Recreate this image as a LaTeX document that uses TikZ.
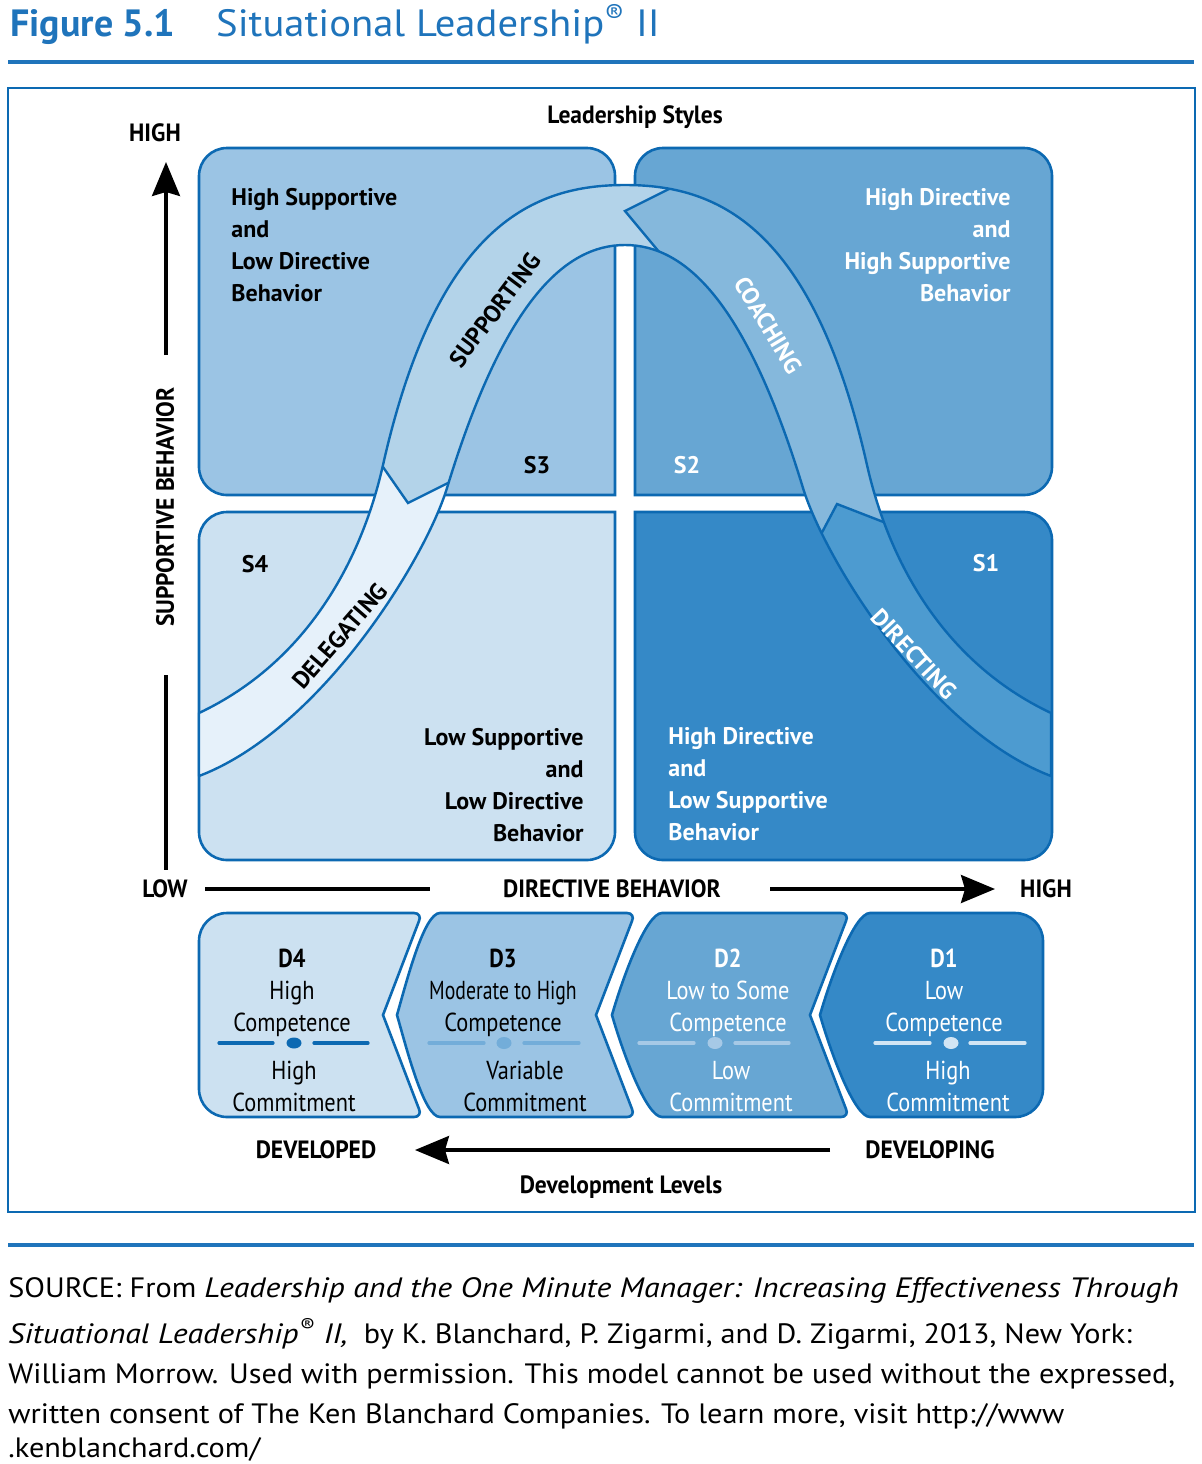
\documentclass[tikz,border=0pt]{standalone}
\usepackage{fontspec}
\setmainfont{PT Sans}
\newfontfamily\condfont{PT Sans}[FakeStretch=0.86]
\newfontfamily\narrowfont{PT Sans}[FakeStretch=0.76]
\newfontfamily\labfont{PT Sans}[FakeStretch=0.94]
\newfontfamily\titlefont{PT Sans}[FakeStretch=1.07]
\newfontfamily\srcfont{PT Sans}[FakeStretch=1.08]
\newfontfamily\srcit{PT Sans Italic}[FakeStretch=1.14]
\usepackage{tikz}
\usetikzlibrary{arrows.meta,positioning}

\definecolor{sltitle}{HTML}{1F74BB}
\definecolor{slborder}{HTML}{0C69B2}
\definecolor{qone}{HTML}{3589C7}
\definecolor{qtwo}{HTML}{67A6D3}
\definecolor{qthree}{HTML}{9BC4E4}
\definecolor{qfour}{HTML}{CCE1F1}
\definecolor{bdir}{HTML}{4D9BD0}
\definecolor{bcoach}{HTML}{85B8DC}
\definecolor{bsupp}{HTML}{B3D3E9}
\definecolor{bdeleg}{HTML}{E6F1FA}
\definecolor{divthree}{HTML}{73ADD9}
\definecolor{divtwo}{HTML}{A6C9E6}
\definecolor{divone}{HTML}{D2E5F4}

% the bell shaped band of the four styles
\newcommand{\slband}{(199,713) .. controls (309,661) and (362,558) .. (383,465)
  .. controls (437.6,223) and (535,185) .. (625,185)
  .. controls (715,185) and (812.4,223) .. (867,465)
  .. controls (888,558) and (941,661) .. (1051,713) -- (1051,776)
  .. controls (930,730) and (825,560) .. (803,488)
  .. controls (746,301) and (685,245) .. (625,245)
  .. controls (565,245) and (504,301) .. (447,488)
  .. controls (425,560) and (320,730) .. (199,776) -- cycle}

\begin{document}
\begin{tikzpicture}[x=0.5pt, y=-0.5pt]
\tikzstyle{quad} = [draw=slborder, line width=1.3pt]
\tikzstyle{band} = [draw=slborder, line width=1.2pt]
\tikzstyle{lab} = [inner sep=0, font=\labfont\fontsize{12.5}{15}\selectfont\bfseries]
\tikzstyle{quadtext} = [inner sep=0, font=\fontsize{12}{16}\selectfont\bfseries]
\tikzstyle{styletag} = [inner sep=0, font=\fontsize{12}{14}\selectfont\bfseries]
\tikzstyle{devtext} = [inner sep=0, align=center, anchor=north, font=\condfont\fontsize{13}{16}\selectfont]
\tikzstyle{divider} = [line width=1.6pt, line cap=round]
\tikzstyle{axis} = [line width=1.6pt]
\tikzstyle{bigarrow} = [axis, -{Stealth[length=17pt, width=14pt, inset=2pt]}]
\tikzstyle{src} = [inner sep=0, anchor=base west, font=\srcfont\fontsize{14}{20}\selectfont]

\useasboundingbox (0,0) rectangle (1202,1464);
\fill[white] (0,0) rectangle (1202,1464);

% title, rules and frame
\node (fig) [inner sep=0, anchor=base west, text=sltitle, font=\fontsize{19}{21}\selectfont\bfseries] at (10,36) {Figure 5.1};
\node (figname) [inner sep=0, base right=20pt of fig, text=sltitle, font=\titlefont\fontsize{19}{21}\selectfont] {Situational Leadership\textsuperscript{®} II};
\draw[sltitle, line width=1.6pt] (8,62) -- (1194,62);
\draw[slborder, line width=1pt] (8,88) rectangle (1195,1212);
\draw[sltitle, line width=1.6pt] (8,1245) -- (1194,1245);

% quadrants
\draw[quad, fill=qthree] (615,495) -- (227,495) .. controls (211.5,495) and (199,482.5) .. (199,467) -- (199,176) .. controls (199,160.5) and (211.5,148) .. (227,148) -- (587,148) .. controls (602.5,148) and (615,160.5) .. (615,176) -- cycle;
\draw[quad, fill=qtwo] (635,495) -- (635,176) .. controls (635,160.5) and (647.5,148) .. (663,148) -- (1024,148) .. controls (1039.5,148) and (1052,160.5) .. (1052,176) -- (1052,467) .. controls (1052,482.5) and (1039.5,495) .. (1024,495) -- cycle;
\draw[quad, fill=qfour] (615,512) -- (615,832) .. controls (615,847.5) and (602.5,860) .. (587,860) -- (227,860) .. controls (211.5,860) and (199,847.5) .. (199,832) -- (199,540) .. controls (199,524.5) and (211.5,512) .. (227,512) -- cycle;
\draw[quad, fill=qone] (635,512) -- (1024,512) .. controls (1039.5,512) and (1052,524.5) .. (1052,540) -- (1052,832) .. controls (1052,847.5) and (1039.5,860) .. (1024,860) -- (663,860) .. controls (647.5,860) and (635,847.5) .. (635,832) -- cycle;

\node (sthreetext) [quadtext, anchor=north west, align=left] at (231,188) {High Supportive\\and\\Low Directive\\Behavior};
\node (stwotext) [quadtext, anchor=north east, align=right, text=white] at (1011,188) {High Directive\\and\\High Supportive\\Behavior};
\node (sfourtext) [quadtext, anchor=north east, align=right] at (584,728) {Low Supportive\\and\\Low Directive\\Behavior};
\node (sonetext) [quadtext, anchor=north west, align=left, text=white] at (668,727) {High Directive\\and\\Low Supportive\\Behavior};
\node (sthree) [styletag] at (537,465) {S3};
\node (stwo) [styletag, text=white] at (687,465) {S2};
\node (sfour) [styletag] at (255,564) {S4};
\node (sone) [styletag, text=white] at (986,563) {S1};

% band, one colour per style
\begin{scope}
\clip (100,431) -- (358,431) -- (408,503) -- (488,463) -- (600,900) -- (100,900) -- cycle;
\fill[bdeleg] \slband;
\end{scope}
\begin{scope}
\clip (100,100) -- (709,100) -- (709,169) -- (625,211) -- (685,283) -- (488,463) -- (408,503) -- (358,431) -- (100,431) -- cycle;
\fill[bsupp] \slband;
\end{scope}
\begin{scope}
\clip (709,100) -- (1150,100) -- (1150,542) -- (935,542) -- (837,504) -- (799,576) -- (685,283) -- (625,211) -- (709,169) -- cycle;
\fill[bcoach] \slband;
\end{scope}
\begin{scope}
\clip (1150,542) -- (1150,900) -- (600,900) -- (799,576) -- (837,504) -- (935,542) -- cycle;
\fill[bdir] \slband;
\end{scope}
\begin{scope}
\clip \slband;
\draw[band] (358,431) -- (408,503) -- (488,463);
\draw[band] (709,169) -- (625,211) -- (685,283);
\draw[band] (935,542) -- (837,504) -- (799,576);
\end{scope}
\draw[band, line join=round] \slband;

\node (supporting) [styletag, rotate=53] at (495,310) {SUPPORTING};
\node (coaching) [styletag, rotate=-59, text=white] at (768,325) {COACHING};
\node (delegating) [styletag, rotate=49] at (340,636) {DELEGATING};
\node (directing) [styletag, rotate=-47, text=white] at (914,654) {DIRECTING};

% axes
\node (styles) [lab] at (635,117) {Leadership Styles};
\node (suphigh) [lab] at (155,133) {HIGH};
\node (supaxis) [lab, rotate=90] at (165,507) {SUPPORTIVE BEHAVIOR};
\coordinate (suptip) at (166,162);
\coordinate (supupper) at (166,355);
\coordinate (suplower) at (166,675);
\coordinate (supbottom) at (166,870);
\draw[bigarrow] (supupper) -- (suptip);
\draw[axis] (suplower) -- (supbottom);

\node (dirlow) [lab] at (165,889) {LOW};
\node (diraxis) [lab] at (612,889) {DIRECTIVE BEHAVIOR};
\node (dirhigh) [lab] at (1046,889) {HIGH};
\coordinate (dirstart) at (205,889);
\coordinate (dirleft) at (430,889);
\coordinate (dirright) at (770,889);
\coordinate (dirtip) at (995,889);
\draw[axis] (dirstart) -- (dirleft);
\draw[bigarrow] (dirright) -- (dirtip);

% development levels
\draw[quad, fill=qfour] (227,913) -- (414,913) .. controls (419,913) and (421,917) .. (419,921) -- (383,1015) -- (419,1109) .. controls (421,1113) and (419,1117) .. (414,1117) -- (227,1117) .. controls (211.5,1117) and (199,1104.5) .. (199,1089) -- (199,941) .. controls (199,925.5) and (211.5,913) .. (227,913) -- cycle;
\draw[quad, fill=qthree] (440,913) -- (627,913) .. controls (632,913) and (634,917) .. (632,921) -- (596,1015) -- (632,1109) .. controls (634,1113) and (632,1117) .. (627,1117) -- (440,1117) .. controls (424,1117) and (407,1050) .. (397,1015) .. controls (407,980) and (424,913) .. (440,913) -- cycle;
\draw[quad, fill=qtwo] (662,913) -- (841,913) .. controls (846,913) and (848,917) .. (846,921) -- (810,1015) -- (846,1109) .. controls (848,1113) and (846,1117) .. (841,1117) -- (662,1117) .. controls (646,1117) and (622,1050) .. (612,1015) .. controls (622,980) and (646,913) .. (662,913) -- cycle;
\draw[quad, fill=qone] (870,913) -- (1015,913) .. controls (1030.5,913) and (1043,925.5) .. (1043,941) -- (1043,1089) .. controls (1043,1104.5) and (1030.5,1117) .. (1015,1117) -- (870,1117) .. controls (854,1117) and (830,1050) .. (820,1015) .. controls (830,980) and (854,913) .. (870,913) -- cycle;

\node (dfour) [devtext] at (292,949) {\textbf{D4}\\High\\Competence};
\node (dfourc) [devtext] at (294,1061) {High\\Commitment};
\node (dthree) [devtext] at (503,949) {\textbf{D3}\\{\narrowfont Moderate to High}\\Competence};
\node (dthreec) [devtext] at (525,1061) {Variable\\Commitment};
\node (dtwo) [devtext, text=white] at (728,949) {\textbf{D2}\\Low to Some\\Competence};
\node (dtwoc) [devtext, text=white] at (731,1061) {Low\\Commitment};
\node (done) [devtext, text=white] at (944,949) {\textbf{D1}\\Low\\Competence};
\node (donec) [devtext, text=white] at (948,1061) {High\\Commitment};

\draw[divider, slborder] (219,1043) -- (273,1043) (314,1043) -- (368,1043);
\fill[slborder] (294,1043) ellipse [x radius=7.5, y radius=5.5];
\draw[divider, divthree] (429,1043) -- (484,1043) (524,1043) -- (579,1043);
\fill[divthree] (504,1043) ellipse [x radius=7.5, y radius=6];
\draw[divider, divtwo] (639,1043) -- (694,1043) (735,1043) -- (789,1043);
\fill[divtwo] (715,1043) ellipse [x radius=7.5, y radius=6];
\draw[divider, divone] (875,1043) -- (930,1043) (970,1043) -- (1025,1043);
\fill[divone] (951,1043) ellipse [x radius=7.5, y radius=6];

\node (developed) [lab] at (316,1150) {DEVELOPED};
\node (developing) [lab] at (930,1150) {DEVELOPING};
\node (devlevels) [lab] at (621,1187) {Development Levels};
\coordinate (devstart) at (830,1150);
\coordinate (devtip) at (415,1150);
\draw[bigarrow] (devstart) -- (devtip);

% source note
\node (srcone) [src] at (8,1297) {SOURCE: From {\srcit Leadership and the One Minute Manager: Increasing Effectiveness Through}};
\node (srctwo) [src] at (8,1343) {{\srcit Situational Leadership\textsuperscript{®} II,}\ \ by K. Blanchard, P. Zigarmi, and D. Zigarmi, 2013, New York:};
\node (srcthree) [src] at (8,1383) {William Morrow. Used with permission. This model cannot be used without the expressed,};
\node (srcfour) [src] at (8,1423) {written consent of The Ken Blanchard Companies. To learn more, visit http://www};
\node (srcfive) [src] at (8,1457) {.kenblanchard.com/};
\end{tikzpicture}
\end{document}
